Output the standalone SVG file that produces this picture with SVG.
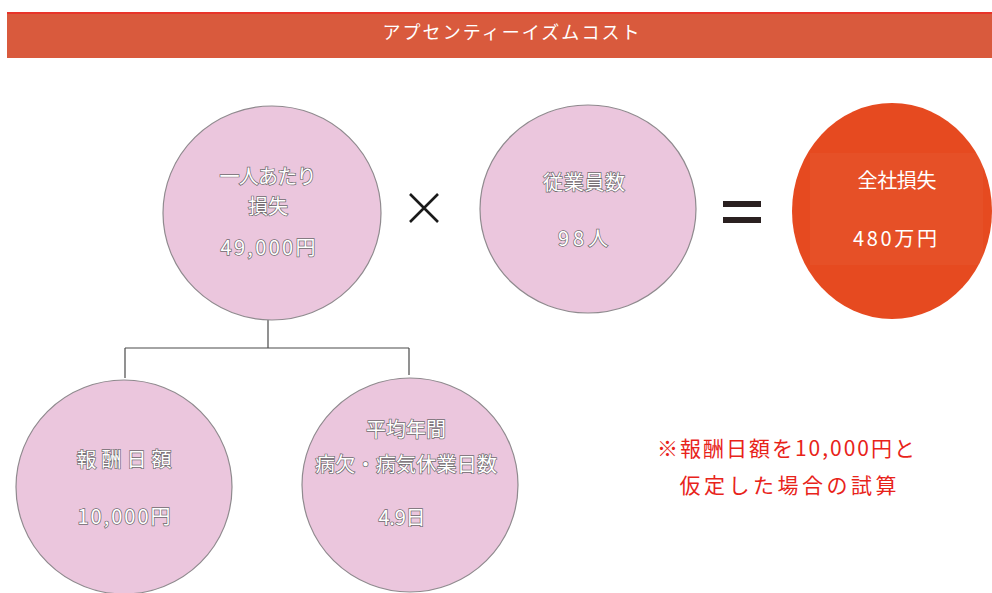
<svg xmlns="http://www.w3.org/2000/svg" width="992" height="593" viewBox="0 0 992 593">
<style>
.bg{fill:#ffffff}
.pink{fill:#ebc6dd;stroke:#8f8a8e;stroke-width:1.2}
.jp{font-family:"Noto Sans CJK JP","Noto Sans",sans-serif;text-anchor:middle}
.ol{fill:#ffffff;stroke:#6e6a6d;stroke-width:1.4;paint-order:stroke;font-size:20px}
.wt{fill:#ffffff;font-size:20px}
.conn{fill:none;stroke:#4a4a4a;stroke-width:1.2}
</style>
<rect class="bg" x="0" y="0" width="992" height="593"/>
<g id="banner">
<rect x="7" y="12" width="985" height="46" fill="#d95a3d"/>
<rect x="7" y="12" width="985" height="2" fill="#e8342a"/>
<text class="jp" x="511" y="39" font-size="18" fill="#ffffff" textLength="257" lengthAdjust="spacing">アプセンティーイズムコスト</text>
</g>
<g id="connectors">
<path class="conn" d="M268 320 V348 M125 348 H409 M125 348 V378 M409 348 V375"/>
</g>
<g id="node-per-person">
<ellipse class="pink" cx="272" cy="213" rx="109" ry="107"/>
<text class="jp ol" x="268" y="184" textLength="97" lengthAdjust="spacing">一人あたり</text>
<text class="jp ol" x="268" y="214" textLength="40" lengthAdjust="spacing">損失</text>
<text class="jp ol" x="268" y="255" textLength="95" lengthAdjust="spacing">49,000円</text>
</g>
<g id="times">
<path d="M410 194 L438 222 M438 194 L410 222" stroke="#1a1a1a" stroke-width="2.6" fill="none"/>
</g>
<g id="node-employees">
<ellipse class="pink" cx="588" cy="209" rx="108" ry="104"/>
<text class="jp ol" x="584" y="190" textLength="82" lengthAdjust="spacing">従業員数</text>
<text class="jp ol" x="583" y="246" textLength="50" lengthAdjust="spacing">98人</text>
</g>
<g id="equals">
<rect x="723" y="201" width="38" height="6" fill="#2a2020"/>
<rect x="723" y="217" width="38" height="6" fill="#2a2020"/>
</g>
<g id="node-total">
<ellipse cx="892" cy="211" rx="100" ry="108" fill="#e64a20"/>
<rect x="810" y="153" width="173" height="112" fill="#ffffff" fill-opacity="0.035"/>
<text class="jp wt" x="897" y="188" textLength="79" lengthAdjust="spacing">全社損失</text>
<text class="jp wt" x="895" y="246" textLength="84" lengthAdjust="spacing">480万円</text>
</g>
<g id="node-daily-pay">
<ellipse class="pink" cx="124" cy="487" rx="108" ry="107"/>
<text class="jp ol" x="124" y="467" textLength="95" lengthAdjust="spacing">報酬日額</text>
<text class="jp ol" x="124" y="524" textLength="93" lengthAdjust="spacing">10,000円</text>
</g>
<g id="node-sick-days">
<ellipse class="pink" cx="410" cy="485" rx="108" ry="107"/>
<text class="jp ol" x="406" y="437" textLength="80" lengthAdjust="spacing">平均年間</text>
<text class="jp ol" x="406" y="472" textLength="182" lengthAdjust="spacing">病欠・病気休業日数</text>
<text class="jp ol" x="402" y="525" textLength="47" lengthAdjust="spacing">4.9日</text>
</g>
<g id="note">
<text class="jp" x="786" y="456" font-size="21" fill="#e8231a" textLength="258" lengthAdjust="spacing">※報酬日額を10,000円と</text>
<text class="jp" x="788" y="493" font-size="21" fill="#e8231a" textLength="217" lengthAdjust="spacing">仮定した場合の試算</text>
</g>
</svg>
